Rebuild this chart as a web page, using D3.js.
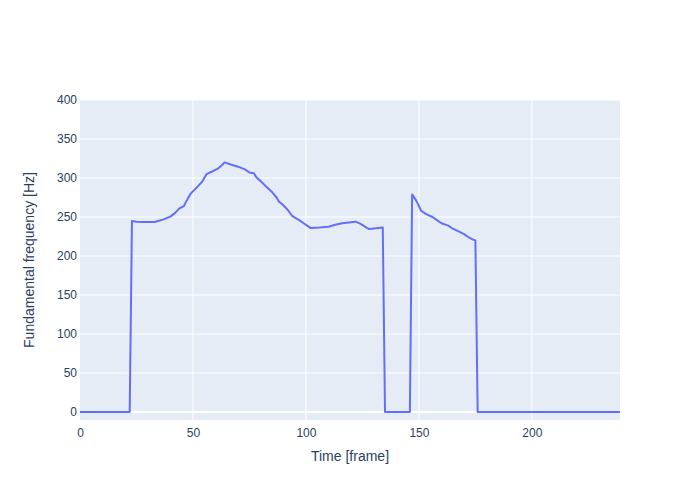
<!DOCTYPE html>
<meta charset="utf-8">
<style>
body, html { margin: 0; padding: 0; background: #fff; }
svg { display: block; font-family: "Liberation Sans", arial, sans-serif; }
.tick text { fill: #2a3f5f; font-size: 12px; }
</style>
<svg width="700" height="500"></svg>
<script src="https://cdn.jsdelivr.net/npm/d3@7"></script>
<script>

// pitch track (frame -> Hz)
var frames = [0, 22, 23, 25, 28, 33, 37, 40, 42, 44, 46, 47, 49, 52, 54, 56, 59, 61, 63, 64,
              67, 70, 73, 75, 77, 78, 80, 82, 85, 87, 88, 90, 92, 94, 97, 99, 101, 102, 106,
              110, 113, 116, 119, 122, 124, 127, 128, 131, 134, 135, 146, 147, 149, 151, 153,
              156, 158, 160, 163, 165, 168, 170, 172, 174, 175, 176, 239];
var f0 = [0, 0, 245, 244, 243.5, 243.5, 247, 250.5, 255, 261, 264, 270, 280, 289, 295, 305, 309, 312, 317, 320,
          317, 314.5, 311, 307, 306, 301, 296, 290, 282, 275, 270, 265, 259, 251, 246, 242, 238, 236, 236.5,
          237.5, 240, 242, 243, 244, 241.5, 236, 234.5, 235.5, 236.5, 0, 0, 279, 270, 258, 254,
          250, 246, 242, 239, 235, 231, 228, 224, 221, 220, 0, 0];

var xTicks = [0, 50, 100, 150, 200];
var yTicks = [0, 50, 100, 150, 200, 250, 300, 350, 400];

var margin = {top: 100, right: 80, bottom: 80, left: 80},
    width = 700 - margin.left - margin.right,
    height = 500 - margin.top - margin.bottom;

var svg = d3.select("svg");
var g = svg.append("g").attr("transform", "translate(" + margin.left + "," + margin.top + ")");

var x = d3.scaleLinear().domain([0, 239]).range([0, width]);
var y = d3.scaleLinear().domain([-10.26, 400]).range([height, 0]);

g.append("rect").attr("width", width).attr("height", height).attr("fill", "#e5ecf6");

// grid
g.selectAll(".xg").data(xTicks.slice(1)).enter().append("line")
    .attr("x1", d => x(d)).attr("x2", d => x(d)).attr("y1", 0).attr("y2", height)
    .attr("stroke", "#fff").attr("stroke-width", 1);
g.selectAll(".yg").data(yTicks).enter().append("line")
    .attr("x1", 0).attr("x2", width).attr("y1", d => y(d)).attr("y2", d => y(d))
    .attr("stroke", "#fff").attr("stroke-width", d => d === 0 ? 2 : 1);

var xAxis = g.append("g").attr("transform", "translate(0," + height + ")")
    .call(d3.axisBottom(x).tickValues(xTicks).tickSize(0).tickPadding(8));
var yAxis = g.append("g")
    .call(d3.axisLeft(y).tickValues(yTicks).tickSize(0).tickPadding(3));
[xAxis, yAxis].forEach(function(a) {
  a.select(".domain").remove();
  a.selectAll("text").style("font-family", "'Liberation Sans', arial, sans-serif");
});

var line = d3.line().x((d, i) => x(frames[i])).y(d => y(d));
g.append("path").datum(f0)
    .attr("d", line)
    .attr("fill", "none")
    .attr("stroke", "#636efa")
    .attr("stroke-width", 2)
    .attr("stroke-linejoin", "round");

svg.append("text")
    .attr("x", margin.left + width / 2).attr("y", 461)
    .attr("text-anchor", "middle")
    .attr("fill", "#2a3f5f").style("font-size", "14px")
    .text("Time [frame]");

svg.append("text")
    .attr("transform", "translate(34," + (margin.top + height / 2) + ") rotate(-90)")
    .attr("text-anchor", "middle")
    .attr("fill", "#2a3f5f").style("font-size", "14px")
    .text("Fundamental frequency [Hz]");

</script>
